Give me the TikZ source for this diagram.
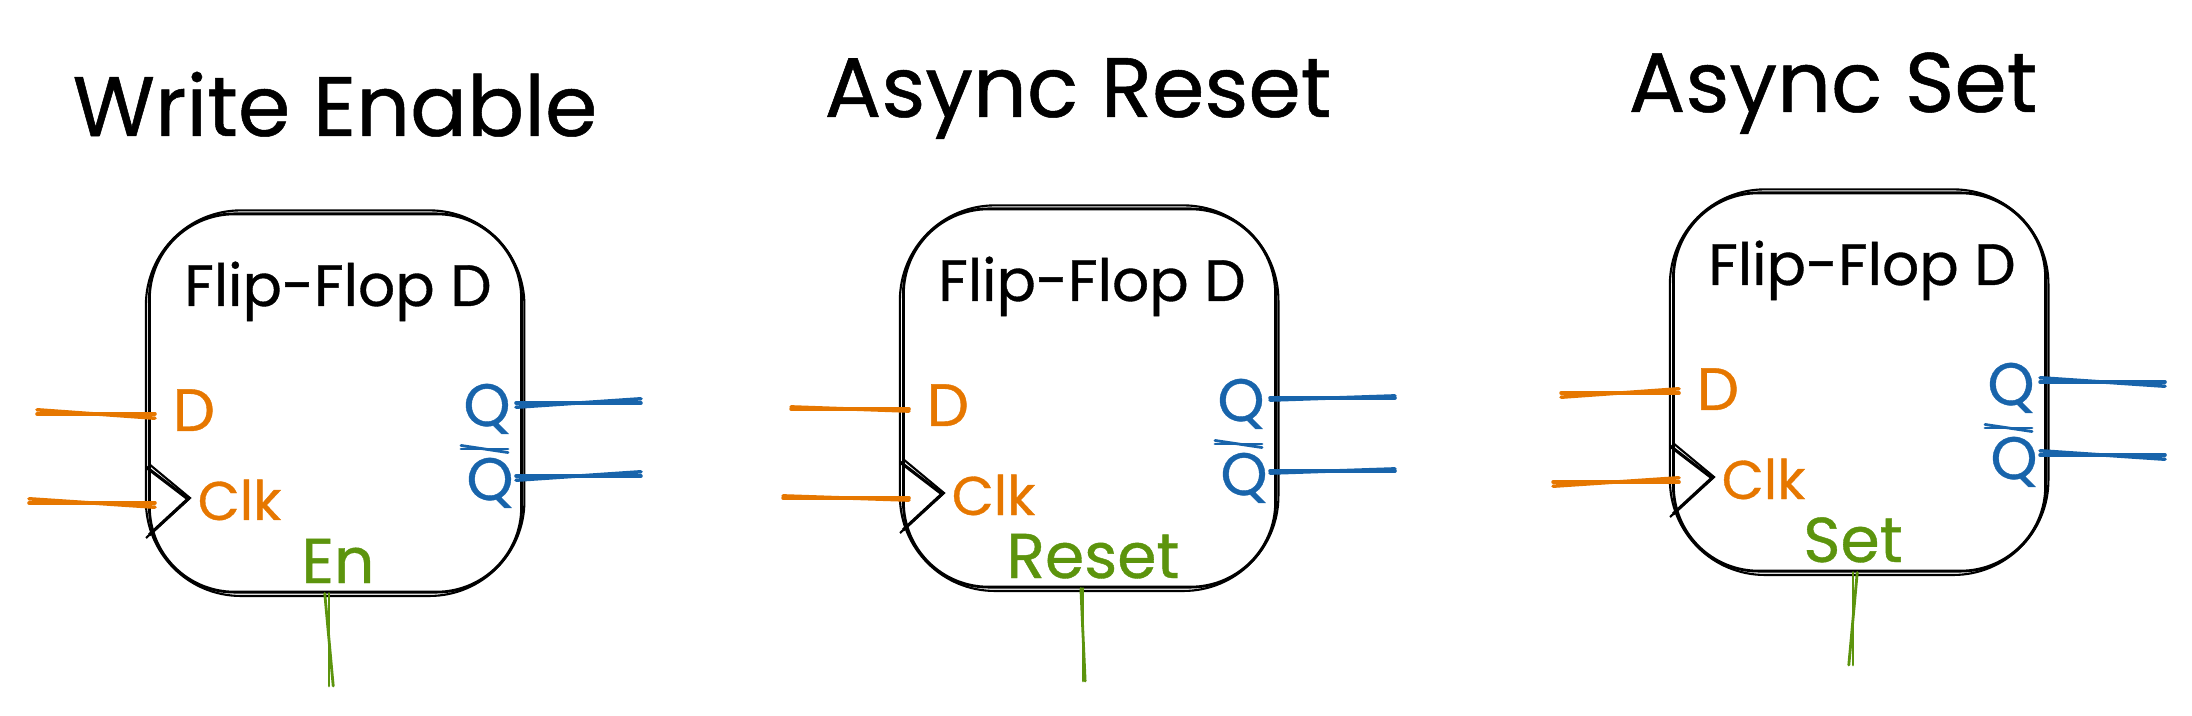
\documentclass[tikz,border=0pt]{standalone}
\usepackage{fontspec}
\setmainfont{Poppins}[FakeBold=0.6]
\definecolor{ffInk}{HTML}{000000}
\definecolor{ffOrange}{HTML}{E67700}
\definecolor{ffBlue}{HTML}{1864AB}
\definecolor{ffGreen}{HTML}{5C940D}
\tikzset{
  ff box/.style={draw=ffInk, line width=0.8pt, rounded corners=0.85cm, minimum width=3.72cm, minimum height=3.78cm, inner sep=0pt},
  ff sketch/.style={draw=ffInk, line width=0.6pt, rounded corners=0.95cm},
  ff clock/.style={draw=ffInk, line width=0.9pt},
  ff wire/.style={line width=1pt, line cap=round},
  ff title/.style={font=\fontsize{24}{24}\selectfont, text=ffInk, anchor=base},
  ff name/.style={font=\fontsize{16.6}{16.6}\selectfont, text=ffInk, anchor=base, inner sep=0pt},
  ff input/.style={font=\fontsize{17}{17}\selectfont, text=ffOrange, anchor=base west, inner sep=0pt},
  ff output/.style={font=\fontsize{17}{17}\selectfont, text=ffBlue, anchor=base, inner sep=0pt},
  ff control/.style={font=\fontsize{18}{18}\selectfont, text=ffGreen, anchor=base, inner sep=0pt},
}
\begin{document}
\begin{tikzpicture}[x=0.01cm,y=-0.01cm]
  \useasboundingbox (0,0) rectangle (2192,716);

  \foreach \n/\x/\y/\txt in {1/335/136/Write Enable,2/1078/117/Async Reset,3/1833/112/Async Set} {
    \node[ff title] (title\n) at (\x,\y) {\txt};
  }

  \foreach \n/\bx/\by/\ctl/\ctlx/\j in {1/147/212/En/191/1.2,2/901/207/Reset/192/0.6,3/1671/191/Set/182/-1.2} {
    \begin{scope}[shift={(\bx,\by)}]
      \node[ff box] (box\n) at (188.5,191) {};
      \draw[ff sketch] ([shift={(-0.6pt,-0.7pt)}]box\n.south west) rectangle ([shift={(0.4pt,0.6pt)}]box\n.north east);
      \node[ff name] (name\n) at (191,94) {Flip-Flop D};

      \node[ff input] (dlabel\n) at (25,219) {D};
      \node[ff input, font=\fontsize{15.5}{15.5}\selectfont] (clklabel\n) at (50,308) {Clk};
      \node[ff output] (qlabel\n) at (340,214) {Q};
      \node[ff output] (qnlabel\n) at (343,288) {Q};
      \node[ff control] (ctl\n) at (\ctlx,371) {\ctl};

      \draw[ff clock] (-1,255) -- (41,287) -- (2,323);
      \draw[ff clock, line width=0.6pt] (2,252) -- (43,286) -- (-1,326);

      \coordinate (din\n) at (-110,202);
      \coordinate (clkin\n) at (-118,291);
      \coordinate (qout\n) at (494,191);
      \coordinate (qnout\n) at (494,264);
      \coordinate (ctlin\n) at (182,474);
      \coordinate (barl\n) at (314,237);
      \coordinate (barr\n) at (361,237);

      \foreach \w in {din,clkin} {
        \draw[ff wire, draw=ffOrange] (\w\n) -- ([xshift=2pt]\w\n -| box\n.west);
        \draw[ff wire, draw=ffOrange] ([yshift=\j pt]\w\n) -- ([xshift=2pt,yshift=-\j pt]\w\n -| box\n.west);
      }
      \foreach \w in {qout,qnout} {
        \draw[ff wire, draw=ffBlue] (\w\n) -- ([xshift=-2pt]\w\n -| box\n.east);
        \draw[ff wire, draw=ffBlue] ([yshift=\j pt]\w\n) -- ([xshift=-2pt,yshift=-\j pt]\w\n -| box\n.east);
      }
      \draw[ff wire, draw=ffBlue, line width=0.8pt] (barl\n) -- (barr\n);
      \draw[ff wire, draw=ffBlue, line width=0.8pt] ([yshift=1pt]barl\n) -- ([yshift=-1pt]barr\n);
      \draw[ff wire, draw=ffGreen, line width=0.8pt] (ctlin\n) -- (ctlin\n |- box\n.south);
      \draw[ff wire, draw=ffGreen, line width=0.8pt] ([xshift=\j pt]ctlin\n) -- ([xshift=-\j pt]ctlin\n |- box\n.south);
    \end{scope}
  }
\end{tikzpicture}
\end{document}
